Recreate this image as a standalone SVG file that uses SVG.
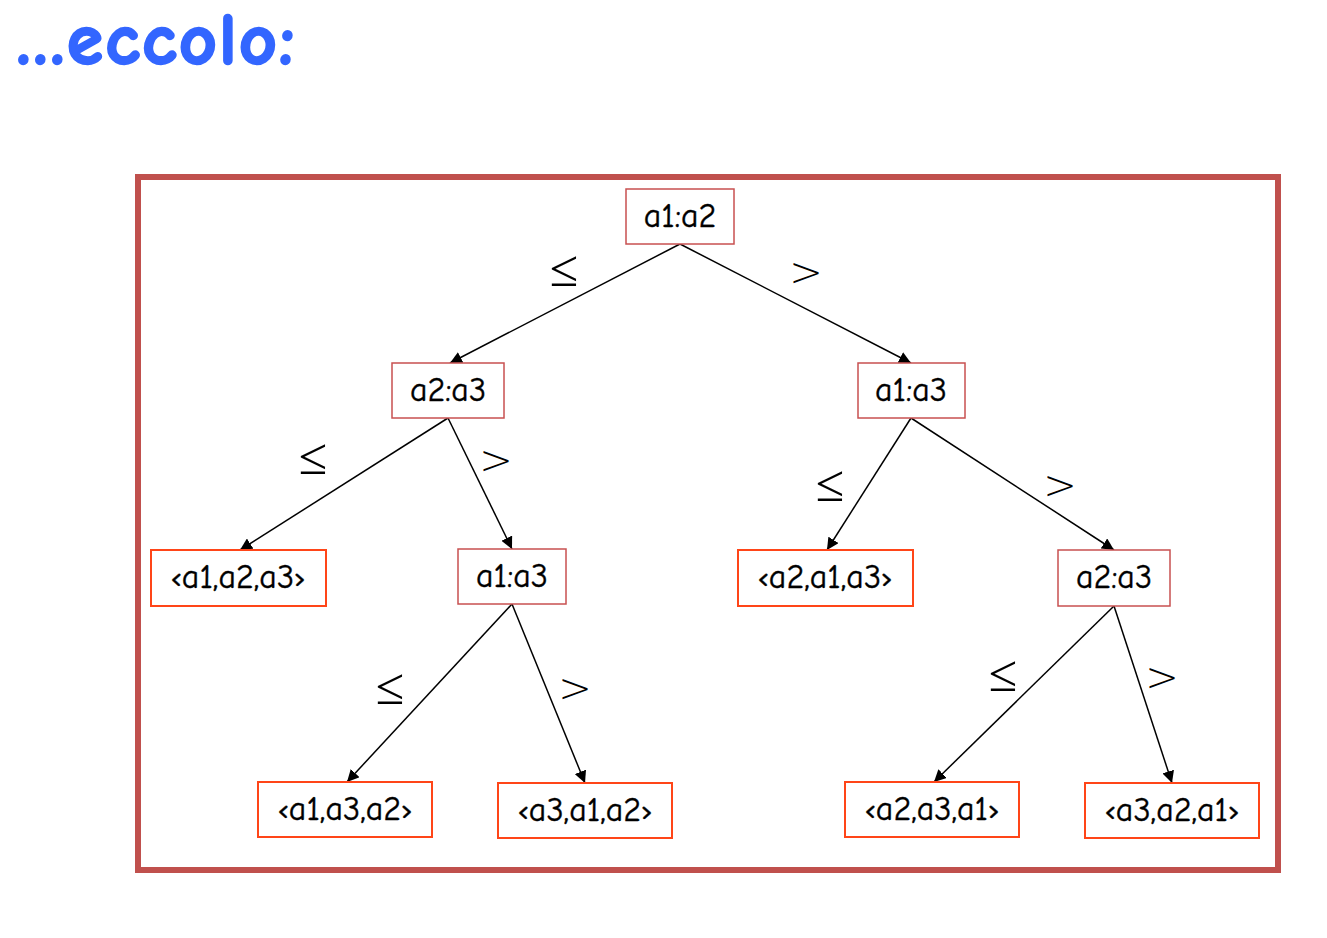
<svg xmlns="http://www.w3.org/2000/svg" width="1327" height="938" viewBox="0 0 1327 938">
<style>
.title{font-family:"Comic Neue","Open Sans","Liberation Sans",sans-serif;font-weight:bold;font-size:73px;fill:#3366ff;stroke:#3366ff;stroke-width:2.5;letter-spacing:2.5px}
.frame{fill:none;stroke:#c0504d;stroke-width:6}
.inner{fill:#fff;stroke:#c85050;stroke-width:1.5}
.leaf{fill:#fff;stroke:#ff4518;stroke-width:2}
.t{font-family:"Comic Neue","Open Sans","Liberation Sans",sans-serif;font-size:34px;fill:#000;stroke:#000;stroke-width:0.4;text-anchor:middle;dominant-baseline:central}
.gt{font-family:"DejaVu Sans","Liberation Sans",sans-serif;font-weight:200;font-size:40px;fill:#000;text-anchor:middle;dominant-baseline:central}
.le{font-family:"Liberation Serif","DejaVu Serif",serif;font-size:52px;fill:#000;text-anchor:middle;dominant-baseline:central}
.e{stroke:#000;stroke-width:1.5;fill:none;marker-end:url(#ah)}
</style>
<defs>
<marker id="ah" viewBox="0 0 10 10" refX="10" refY="5" markerWidth="12" markerHeight="12" markerUnits="userSpaceOnUse" orient="auto">
<path d="M0,0 L10,5 L0,10 z" fill="#000"/>
</marker>
</defs>
<rect width="1327" height="938" fill="#fff"/>
<text class="title" x="16" y="64">…eccolo:</text>
<rect class="frame" x="138" y="177" width="1140" height="693"/>
<g id="connectors">
<line class="e" x1="680" y1="244" x2="450" y2="363"/>
<line class="e" x1="680" y1="244" x2="911" y2="363"/>
<line class="e" x1="448" y1="418" x2="240" y2="550"/>
<line class="e" x1="448" y1="418" x2="512" y2="549"/>
<line class="e" x1="911" y1="418" x2="827" y2="550"/>
<line class="e" x1="911" y1="418" x2="1114" y2="550"/>
<line class="e" x1="512" y1="604" x2="347" y2="782"/>
<line class="e" x1="512" y1="604" x2="585" y2="783"/>
<line class="e" x1="1114" y1="606" x2="934" y2="782"/>
<line class="e" x1="1114" y1="606" x2="1172" y2="783"/>
<text class="le" x="564" y="268">≤</text>
<text class="gt" x="806" y="272">&gt;</text>
<text class="le" x="313" y="456">≤</text>
<text class="gt" x="496" y="460">&gt;</text>
<text class="le" x="830" y="483">≤</text>
<text class="gt" x="1060" y="485">&gt;</text>
<text class="le" x="390" y="686">≤</text>
<text class="gt" x="575" y="688">&gt;</text>
<text class="le" x="1003" y="673">≤</text>
<text class="gt" x="1162" y="677">&gt;</text>
</g>
<g id="n_a1a2"><rect class="inner" x="626" y="189" width="108" height="55"/><text class="t" x="680" y="216">a1:a2</text></g>
<g id="n_a2a3_l"><rect class="inner" x="392" y="363" width="112" height="55"/><text class="t" x="448" y="390">a2:a3</text></g>
<g id="n_a1a3_r"><rect class="inner" x="858" y="363" width="107" height="55"/><text class="t" x="911" y="390">a1:a3</text></g>
<g id="n_a1a3_m"><rect class="inner" x="458" y="549" width="108" height="55"/><text class="t" x="512" y="576">a1:a3</text></g>
<g id="n_a2a3_r"><rect class="inner" x="1058" y="550" width="112" height="56"/><text class="t" x="1114" y="577">a2:a3</text></g>
<g id="l_123"><rect class="leaf" x="151" y="550" width="175" height="56"/><text class="t" x="238" y="577">‹a1,a2,a3›</text></g>
<g id="l_213"><rect class="leaf" x="738" y="550" width="175" height="56"/><text class="t" x="825" y="577">‹a2,a1,a3›</text></g>
<g id="l_132"><rect class="leaf" x="258" y="782" width="174" height="55"/><text class="t" x="345" y="809">‹a1,a3,a2›</text></g>
<g id="l_312"><rect class="leaf" x="498" y="783" width="174" height="55"/><text class="t" x="585" y="810">‹a3,a1,a2›</text></g>
<g id="l_231"><rect class="leaf" x="845" y="782" width="174" height="55"/><text class="t" x="932" y="809">‹a2,a3,a1›</text></g>
<g id="l_321"><rect class="leaf" x="1085" y="783" width="174" height="55"/><text class="t" x="1172" y="810">‹a3,a2,a1›</text></g>
</svg>
